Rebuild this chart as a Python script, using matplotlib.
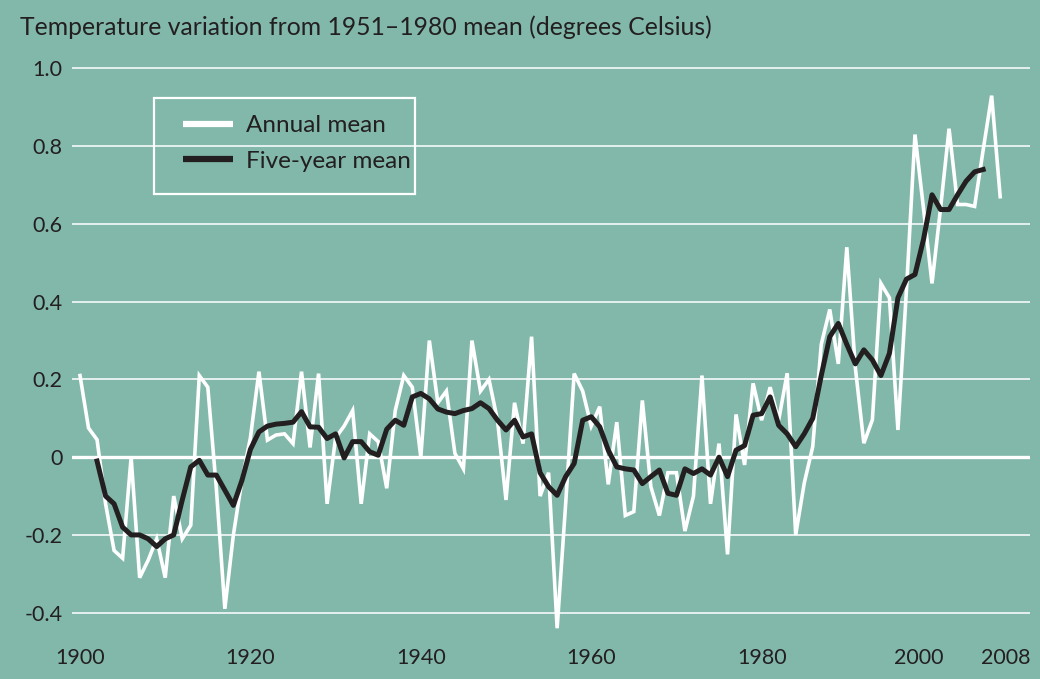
import numpy as np
import matplotlib
matplotlib.use("Agg")
import matplotlib.pyplot as plt
import matplotlib.patches as mpatches

plt.rcParams['font.family'] = ['Lato', 'DejaVu Sans']
plt.rcParams['axes.unicode_minus'] = False

# --------------------------
# data (deviation from 1951-1980 mean, deg C)
# --------------------------
annual_years = list(range(1900, 2009))
annual_mean = [
    0.21, 0.075, 0.045, -0.12, -0.24, -0.26, 0.0, -0.31, -0.265, -0.21,      # 1900-1909
    -0.31, -0.10, -0.21, -0.175, 0.21, 0.18, -0.08, -0.39, -0.20, -0.06,     # 1910-1919
    0.05, 0.22, 0.044, 0.057, 0.06, 0.035, 0.22, 0.025, 0.215, -0.12,        # 1920-1929
    0.05, 0.08, 0.12, -0.12, 0.06, 0.04, -0.08, 0.12, 0.21, 0.18,            # 1930-1939
    0.0, 0.30, 0.14, 0.17, 0.01, -0.03, 0.30, 0.17, 0.20, 0.095,             # 1940-1949
    -0.11, 0.14, 0.035, 0.31, -0.10, -0.04, -0.44, -0.12, 0.215, 0.17,       # 1950-1959
    0.08, 0.13, -0.07, 0.09, -0.15, -0.14, 0.146, -0.076, -0.15, -0.04,      # 1960-1969
    -0.04, -0.19, -0.10, 0.21, -0.12, 0.035, -0.25, 0.11, -0.02, 0.19,       # 1970-1979
    0.095, 0.18, 0.095, 0.216, -0.20, -0.067, 0.027, 0.29, 0.38, 0.24,       # 1980-1989
    0.54, 0.23, 0.036, 0.096, 0.447, 0.41, 0.07, 0.43, 0.83, 0.64,           # 1990-1999
    0.447, 0.64, 0.845, 0.65, 0.65, 0.645, 0.79, 0.93, 0.67,                 # 2000-2008
]

five_years = list(range(1902, 2007))
five_year_mean = [
    -0.01, -0.10, -0.12, -0.18, -0.20, -0.20, -0.21, -0.23,                  # 1902-1909
    -0.21, -0.20, -0.11, -0.025, -0.008, -0.046, -0.046, -0.085, -0.124, -0.06,  # 1910-1919
    0.02, 0.065, 0.08, 0.085, 0.087, 0.09, 0.117, 0.078, 0.077, 0.048,       # 1920-1929
    0.06, -0.002, 0.04, 0.04, 0.014, 0.005, 0.072, 0.095, 0.082, 0.155,      # 1930-1939
    0.164, 0.15, 0.124, 0.116, 0.112, 0.12, 0.125, 0.14, 0.125, 0.095,       # 1940-1949
    0.07, 0.095, 0.052, 0.06, -0.04, -0.076, -0.098, -0.05, -0.016, 0.095,   # 1950-1959
    0.104, 0.078, 0.018, -0.025, -0.03, -0.033, -0.068, -0.05, -0.033, -0.093,  # 1960-1969
    -0.098, -0.03, -0.042, -0.03, -0.046, 0.0, -0.05, 0.018, 0.03, 0.108,    # 1970-1979
    0.112, 0.155, 0.082, 0.06, 0.027, 0.06, 0.10, 0.21, 0.31, 0.344,         # 1980-1989
    0.29, 0.24, 0.276, 0.25, 0.21, 0.267, 0.41, 0.458, 0.47, 0.56,           # 1990-1999
    0.675, 0.637, 0.637, 0.675, 0.71, 0.734, 0.74,                           # 2000-2006
]

y_ticks = [-0.4, -0.2, 0.0, 0.2, 0.4, 0.6, 0.8, 1.0]
y_labels = ['-0.4', '-0.2', '0', '0.2', '0.4', '0.6', '0.8', '1.0']
x_labels = ['1900', '1920', '1940', '1960', '1980', '2000', '2008']
# in the original the "2000" label is nudged left to make room for "2008"
x_tick_pos = [1900, 1920, 1940, 1960, 1980, 1998.4, 2008.6]

# --------------------------
# styling
# --------------------------
bg = '#81b8aa'
ink = '#231f20'

fig = plt.figure(figsize=(10.4, 6.79), dpi=100, facecolor=bg)
ax = fig.add_axes([72 / 1040, 1 - 636 / 679, 958 / 1040, 587 / 679])
ax.set_facecolor(bg)

ax.set_xlim(1899.06, 2011.5)
ax.set_ylim(-0.46, 1.05)

for v in y_ticks:
    ax.axhline(v, color='white', lw=2.4 if v == 0 else 1.1, zorder=1)

ax.plot(annual_years, annual_mean, color='white', lw=2.6, zorder=2,
        solid_joinstyle='miter', label='Annual mean')
ax.plot(five_years, five_year_mean, color=ink, lw=3.6, zorder=3,
        solid_joinstyle='round', label='Five-year mean')

for s in ax.spines.values():
    s.set_visible(False)

ax.set_yticks(y_ticks)
ax.set_yticklabels(y_labels)
ax.set_xticks(x_tick_pos)
ax.set_xticklabels(x_labels)
ax.tick_params(axis='both', length=0, labelsize=15.5, colors=ink)
ax.tick_params(axis='y', pad=7)
ax.tick_params(axis='x', pad=9)

fig.text(20 / 1040, 1 - 27 / 679,
         'Temperature variation from 1951\u20131980 mean (degrees Celsius)',
         ha='left', va='center', fontsize=17.8, color=ink)

# legend: white frame drawn separately, entries without frame
frame = mpatches.Rectangle((154 / 1040, 1 - 194 / 679), 261 / 1040, 96 / 679,
                           transform=fig.transFigure, fill=False,
                           edgecolor='white', lw=1.6, zorder=5)
fig.patches.append(frame)

leg = ax.legend(loc='upper left', bbox_to_anchor=(183 / 1040, 1 - 115 / 679),
                bbox_transform=fig.transFigure, frameon=False, fontsize=17.5,
                handlelength=2.06, handletextpad=0.53, labelspacing=0.6,
                borderpad=0, borderaxespad=0)
for line in leg.get_lines():
    line.set_linewidth(4.5)
    line.set_solid_capstyle('butt')
for t in leg.get_texts():
    t.set_color(ink)

plt.savefig('out.png', dpi=100, facecolor=bg)
